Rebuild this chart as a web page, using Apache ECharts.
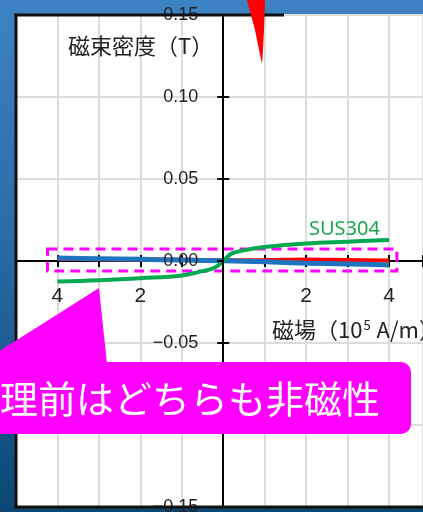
<!DOCTYPE html>
<html><head><meta charset="utf-8">
<script src="https://cdn.jsdelivr.net/npm/echarts@6/dist/echarts.min.js"></script>
<style>
html,body{margin:0;padding:0;overflow:hidden;}
#c{width:423px;height:512px;background:linear-gradient(180deg,#3d82c2 0%,#2b6ca8 45%,#0c4774 100%);}
</style>
</head><body><div id="c"></div>
<script>
// Magnetic field H (10^5 A/m) and flux density B (T)
const sus304H = [-4, -3, -2, -1, -0.5, -0.2, 0, 0.2, 0.5, 1, 2, 3, 4];
const sus304B = [-0.0125, -0.0117, -0.0105, -0.0088, -0.0062, -0.004, 0, 0.0045, 0.0065, 0.0085, 0.0107, 0.0118, 0.0128];
const otherH = [-4, -3, -2, -1, 0, 1, 2, 3, 4];
const blueB = [0.0018, 0.0014, 0.001, 0.0006, 0.0001, -0.0005, -0.0013, -0.0018, -0.0024];
const redB = [0.0012, 0.001, 0.0009, 0.0007, 0.0005, 0.0006, 0.0009, 0.0006, 0.0003];
const xTickValues = [-4, -2, 2, 4];
const yAxisName = '磁束密度（T）';
const seriesLabel = 'SUS304';
const calloutText = '理前はどちらも非磁性';

const pairs = (xs, ys) => xs.map((x, i) => [x, ys[i]]);
const fmtY = v => (v < 0 ? '\u2212' : '') + Math.abs(v).toFixed(2);
const fmtX = v => xTickValues.includes(Math.round(v * 100) / 100) ? String(Math.abs(Math.round(v))) : '';

const X_MIN = -5, X_MAX = 4.82, Y_MIN = -0.15, Y_MAX = 0.15;
const G_LEFT = 16, G_TOP = 15, G_BOTTOM = 5, W = 423, H = 512;
const gridW = W - G_LEFT, gridH = H - G_TOP - G_BOTTOM;
// place the axes through the origin (offset from the grid edges)
const yOff = -gridW * (0 - X_MIN) / (X_MAX - X_MIN);
const xOff = -gridH * (0 - Y_MIN) / (Y_MAX - Y_MIN);

const chart = echarts.init(document.getElementById('c'), null, {renderer: 'canvas'});
const xBase = {type: 'value', min: X_MIN, max: X_MAX, interval: 1, position: 'bottom', offset: xOff};
const yBase = {type: 'value', min: Y_MIN, max: Y_MAX, interval: 0.05, position: 'left', offset: yOff};
chart.setOption({
  animation: false,
  grid: {left: G_LEFT, right: 0, top: G_TOP, bottom: G_BOTTOM, show: true, backgroundColor: '#ffffff', borderWidth: 0,
         containLabel: false, outerBoundsMode: 'none'},
  xAxis: [
    Object.assign({}, xBase, {
      axisLine: {show: true, onZero: false, lineStyle: {color: '#000', width: 2}},
      axisTick: {show: true, inside: false, length: 6, lineStyle: {color: '#000', width: 2}},
      axisLabel: {formatter: fmtX, margin: 25, fontSize: 21, color: '#222', fontFamily: 'Liberation Sans'},
      splitLine: {show: true, lineStyle: {color: '#dcdcdc', width: 2}}
    }),
    Object.assign({}, xBase, {
      axisLine: {show: false, onZero: false},
      axisTick: {show: true, inside: true, length: 6, lineStyle: {color: '#000', width: 2}},
      axisLabel: {show: false}, splitLine: {show: false}
    })
  ],
  yAxis: [
    Object.assign({}, yBase, {
      z: 6,
      axisLine: {show: true, onZero: false, lineStyle: {color: '#000', width: 2}},
      axisTick: {show: true, inside: false, length: 6, lineStyle: {color: '#000', width: 2}},
      axisLabel: {formatter: fmtY, margin: 25, fontSize: 18, color: '#222', fontFamily: 'Liberation Sans', showMinLabel: true, showMaxLabel: true},
      splitLine: {show: false}
    }),
    Object.assign({}, yBase, {
      axisLine: {show: false, onZero: false},
      axisTick: {show: true, inside: true, length: 6, lineStyle: {color: '#000', width: 2}},
      axisLabel: {show: false},
      splitLine: {show: true, lineStyle: {color: '#dcdcdc', width: 2}}
    })
  ],
  series: [
    {
      name: 'red', type: 'line', data: pairs(otherH, redB), showSymbol: false, smooth: 0.3,
      lineStyle: {color: '#ff0000', width: 4}, itemStyle: {color: '#ff0000'}, z: 3,
      markArea: {
        silent: true,
        itemStyle: {color: 'rgba(0,0,0,0)', borderColor: '#ff00ff', borderWidth: 3, borderType: [10, 6]},
        data: [[{coord: [-4.24, 0.0073]}, {coord: [4.19, -0.0061]}]]
      }
    },
    {
      name: 'blue', type: 'line', data: pairs(otherH, blueB), showSymbol: false, smooth: 0.3,
      lineStyle: {color: '#1f74c0', width: 5}, itemStyle: {color: '#1f74c0'}, z: 4
    },
    {
      name: seriesLabel, type: 'line', data: pairs(sus304H, sus304B), showSymbol: false, smooth: 0.4,
      lineStyle: {color: '#00a84f', width: 4}, itemStyle: {color: '#00a84f'}, z: 5
    }
  ],
  graphic: [
    {type: 'line', z: 50, shape: {x1: 16, y1: 13.5, x2: 16, y2: 508.5}, style: {stroke: '#111', lineWidth: 3}},
    {type: 'line', z: 50, shape: {x1: 14.5, y1: 15, x2: 284, y2: 15}, style: {stroke: '#111', lineWidth: 3}},
    {type: 'line', z: 50, shape: {x1: 14.5, y1: 507, x2: 423, y2: 507}, style: {stroke: '#111', lineWidth: 3}},
    {type: 'text', z: 60, x: 68, y: 46, style: {text: yAxisName, font: '22px "Noto Sans CJK JP"', fill: '#222', verticalAlign: 'middle'}},
    {type: 'text', z: 60, x: 272, y: 330, style: {
      text: '{a|磁場（10}{s|5}{a| A/m）}', verticalAlign: 'middle',
      rich: {
        a: {fontSize: 22, fontFamily: 'Noto Sans CJK JP', fill: '#222'},
        s: {fontSize: 13, fontFamily: 'Noto Sans CJK JP', fill: '#222', verticalAlign: 'top', padding: [0, 1, 0, 1]}
      }}},
    {type: 'text', z: 60, x: 309, y: 229, style: {text: seriesLabel, font: '20px "Noto Sans"', fill: '#1aa64e', verticalAlign: 'middle'}},
    {type: 'polygon', z: 70, shape: {points: [[247, 0], [251, 15], [255, 30], [258, 45], [260.5, 57], [262, 64], [263, 50], [264, 30], [265, 0]]}, style: {fill: '#ff0000'}},
    {type: 'polygon', z: 90, shape: {points: [[99, 288], [107, 364], [-21, 364]]}, style: {fill: '#ff00ff'}},
    {type: 'rect', z: 90, shape: {x: -20, y: 362, width: 431, height: 72, r: 10}, style: {fill: '#ff00ff'}},
    {type: 'text', z: 95, x: 0, y: 399, style: {text: calloutText, font: '38px "Noto Sans CJK JP"', fill: '#ffffff', verticalAlign: 'middle'}}
  ]
});
</script>
</body></html>
